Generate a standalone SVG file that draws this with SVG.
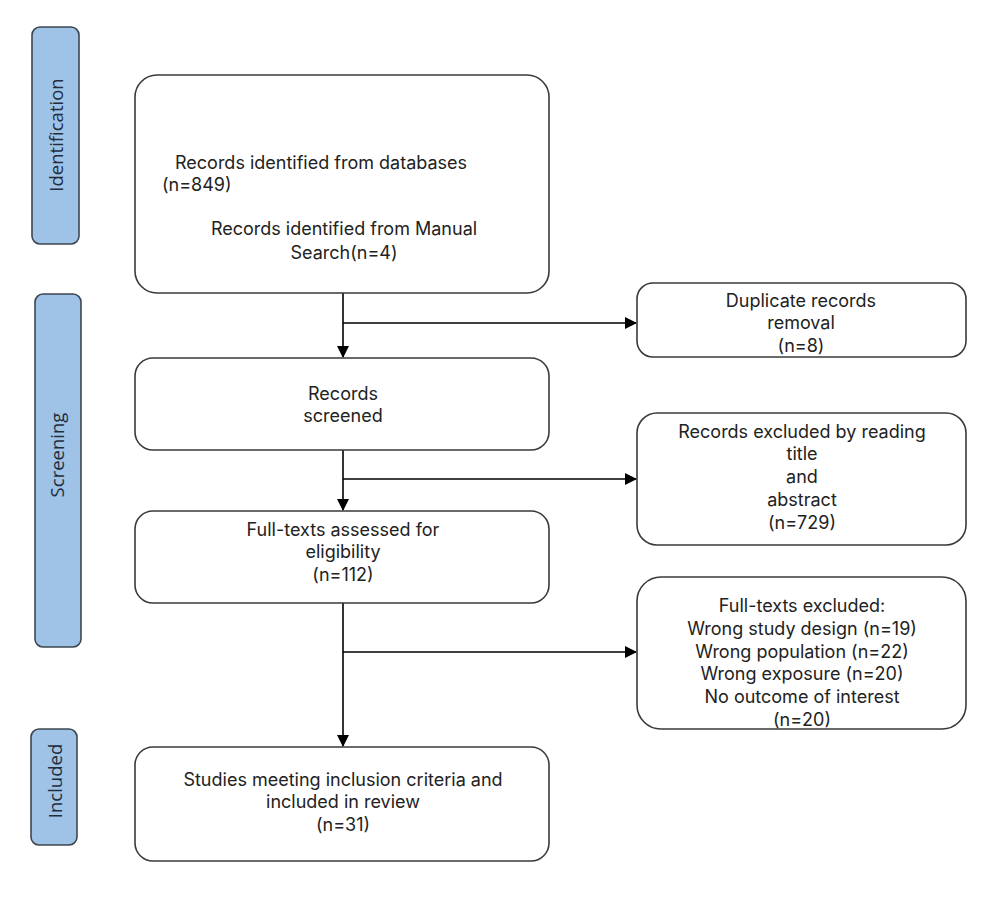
<svg xmlns="http://www.w3.org/2000/svg" width="1000" height="913" viewBox="0 0 1000 913">
<style>
.box{fill:#fff;stroke:#3a3a3a;stroke-width:1.6}
.lab{fill:#9fc3e7;stroke:#3d4650;stroke-width:1.6}
text{font-family:Inter,"Open Sans","Liberation Sans",Arial,sans-serif;font-size:18px;fill:#222}
.c{text-anchor:middle}
.v{text-anchor:middle;font-family:"Open Sans","Liberation Sans",Arial,sans-serif;font-size:18.5px;fill:#1f2d3d}
.ln{stroke:#000;stroke-width:1.6;fill:none}
</style>
<defs>
<marker id="ah" markerWidth="12" markerHeight="12" refX="11" refY="6" orient="auto" markerUnits="userSpaceOnUse" viewBox="0 0 12 12">
<path d="M0,0 L12,6 L0,12 z" fill="#000"/>
</marker>
</defs>
<rect width="1000" height="913" fill="#fff"/>
<g id="label-identification">
<rect class="lab" x="32" y="27" width="47" height="217" rx="8"/>
<text class="v" transform="translate(63,135) rotate(-90)">Identification</text>
</g>
<g id="label-screening">
<rect class="lab" x="35" y="294" width="46" height="353" rx="8"/>
<text class="v" transform="translate(64,455) rotate(-90)">Screening</text>
</g>
<g id="label-included">
<rect class="lab" x="31" y="729" width="46" height="116" rx="8"/>
<text class="v" transform="translate(62,781) rotate(-90)">Included</text>
</g>
<g id="connectors">
<line class="ln" x1="343" y1="293" x2="343" y2="357" marker-end="url(#ah)"/>
<line class="ln" x1="343" y1="323" x2="636" y2="323" marker-end="url(#ah)"/>
<line class="ln" x1="343" y1="450" x2="343" y2="510" marker-end="url(#ah)"/>
<line class="ln" x1="343" y1="479" x2="636" y2="479" marker-end="url(#ah)"/>
<line class="ln" x1="343" y1="603" x2="343" y2="746" marker-end="url(#ah)"/>
<line class="ln" x1="343" y1="652" x2="636" y2="652" marker-end="url(#ah)"/>
</g>
<g id="node-identified">
<rect class="box" x="135" y="75" width="414" height="218" rx="22"/>
<text x="175" y="169">Records identified from databases</text>
<text x="162" y="191">(n=849)</text>
<text class="c" x="344" y="235">Records identified from Manual</text>
<text class="c" x="344" y="259">Search(n=4)</text>
</g>
<g id="node-duplicates">
<rect class="box" x="637" y="283" width="329" height="74" rx="16"/>
<text class="c" x="801" y="307">Duplicate records</text>
<text class="c" x="801" y="329">removal</text>
<text class="c" x="801" y="352">(n=8)</text>
</g>
<g id="node-screened">
<rect class="box" x="135" y="358" width="414" height="92" rx="18"/>
<text class="c" x="343" y="400">Records</text>
<text class="c" x="343" y="422">screened</text>
</g>
<g id="node-excluded-title">
<rect class="box" x="637" y="413" width="329" height="132" rx="20"/>
<text class="c" x="802" y="438">Records excluded by reading</text>
<text class="c" x="802" y="460">title</text>
<text class="c" x="802" y="483">and</text>
<text class="c" x="802" y="506">abstract</text>
<text class="c" x="802" y="529">(n=729)</text>
</g>
<g id="node-fulltexts">
<rect class="box" x="135" y="511" width="414" height="92" rx="18"/>
<text class="c" x="343" y="536">Full-texts assessed  for</text>
<text class="c" x="343" y="558">eligibility</text>
<text class="c" x="343" y="581">(n=112)</text>
</g>
<g id="node-fulltext-excluded">
<rect class="box" x="637" y="577" width="329" height="152" rx="24"/>
<text class="c" x="802" y="612">Full-texts excluded:</text>
<text class="c" x="802" y="635">Wrong study design (n=19)</text>
<text class="c" x="802" y="658">Wrong population (n=22)</text>
<text class="c" x="802" y="680">Wrong exposure (n=20)</text>
<text class="c" x="802" y="703">No outcome of interest</text>
<text class="c" x="802" y="726">(n=20)</text>
</g>
<g id="node-included">
<rect class="box" x="135" y="747" width="414" height="114" rx="18"/>
<text class="c" x="343" y="786">Studies meeting inclusion criteria and</text>
<text class="c" x="343" y="808">included in review</text>
<text class="c" x="343" y="831">(n=31)</text>
</g>
</svg>
